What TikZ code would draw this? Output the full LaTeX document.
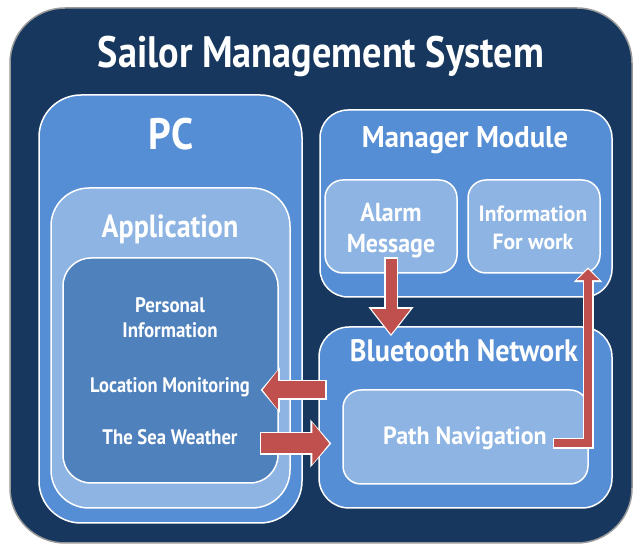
\documentclass[tikz,border=0pt]{standalone}
\usepackage{fontspec}
\setmainfont{PT Sans}
\usetikzlibrary{arrows.meta,calc}
\definecolor{navy}{HTML}{17375E}
\definecolor{midblue}{HTML}{558ED5}
\definecolor{lightblue}{HTML}{8EB4E3}
\definecolor{deepblue}{HTML}{4F81BD}
\definecolor{arrowred}{HTML}{C0504D}
\newcommand{\sq}[2][0.9]{\scalebox{#1}[1]{#2}}
\newcommand{\fs}[2]{\fontsize{#1}{#2}\selectfont\bfseries}
\tikzset{
	box/.style={draw=white, line width=1.5pt, rounded corners=#1, inner sep=0pt},
	lbl/.style={text=white, inner sep=0pt, anchor=base, align=center},
	blockarrow/.style n args={3}{draw=arrowred, line width=#1pt,
		-{Triangle[length=#2pt, width=#3pt]},
		preaction={draw=white, line width=#1pt+3pt, -{Triangle[length=#2pt+4pt, width=#3pt+6pt]},
			shorten >=-2pt, shorten <=-1.5pt}}
}
\begin{document}
\begin{tikzpicture}[x=1pt,y=1pt]
		\useasboundingbox (0,0) rectangle (635,545);
		% boxes
		\node[box=55pt, draw=black!40, fill=navy, minimum width=622pt, minimum height=535pt] (sms) at (321,269.5) {};
		\node[box=42pt, fill=midblue, minimum width=263pt, minimum height=428pt] (pc) at (170.5,236) {};
		\node[box=38pt, fill=lightblue, minimum width=239pt, minimum height=320pt] (app) at (170.5,197) {};
		\node[box=28pt, fill=deepblue, minimum width=215pt, minimum height=225pt] (inner) at (170.5,174.5) {};
		\node[box=28pt, fill=midblue, minimum width=292pt, minimum height=187pt] (mm) at (466,341.5) {};
		\node[box=18pt, fill=lightblue, minimum width=132pt, minimum height=93pt] (alarmbox) at (391,318.5) {};
		\node[box=18pt, fill=lightblue, minimum width=132pt, minimum height=93pt] (infobox) at (534,318.5) {};
		\node[box=30pt, fill=midblue, minimum width=293pt, minimum height=181pt] (bt) at (465.5,127.5) {};
		\node[box=18pt, fill=lightblue, minimum width=245pt, minimum height=94pt] (pathbox) at (465.5,108) {};
		% texts
		\node[lbl, font=\fs{44}{50}] (title) at (321,477) {\sq[0.87]{Sailor Management System}};
		\node[lbl, font=\fs{44}{50}] (pctext) at (171,395) {\sq{PC}};
		\node[lbl, font=\fs{32}{36}] (apptext) at (170,307) {\sq[0.875]{Application}};
		\node[lbl, font=\fs{21}{25}] (pers) at (170,207) {\sq{Personal}\\\sq{Information}};
		\node[lbl, font=\fs{21}{25}] (loc) at (170,152) {\sq[0.88]{Location Monitoring}};
		\node[lbl, font=\fs{21}{25}] (sea) at (170,100) {\sq[0.89]{The Sea Weather}};
		\node[lbl, font=\fs{30}{34}] (mmtext) at (465,397) {\sq[0.955]{Manager Module}};
		\node[lbl, font=\fs{26}{31}] (alarm) at (391,292) {\sq[0.92]{Alarm}\\\sq[0.92]{Message}};
		\node[lbl, font=\fs{22}{28}] (info) at (533,295) {\sq[0.98]{Information}\\\sq[0.98]{For work}};
		\node[lbl, font=\fs{31}{35}] (bttext) at (464,183) {\sq[0.91]{Bluetooth Network}};
		\node[lbl, font=\fs{25}{29}] (pn) at (465,100) {\sq[0.96]{Path Navigation}};
		% arrows
		\draw[blockarrow={11}{25}{37}] (alarm.south) -- ($ (alarm.south |- bt.north) + (0,-8) $);
		\draw[blockarrow={8}{11}{22}] ($ (pathbox.east |- pn.base) + (-34.5,1.5) $) -| ($ (infobox.south) + (54,4.5) $);
		\draw[blockarrow={17}{15}{38}] ($ (bt.west |- loc.base) + (7,3) $) -- ($ (inner.east |- loc.base) + (-16,3) $);
		\draw[blockarrow={20}{17}{41}] ($ (inner.east |- sea.base) + (-17.5,1.5) $) -- ($ (bt.west |- sea.base) + (11,1.5) $);
	\end{tikzpicture}
\end{document}
